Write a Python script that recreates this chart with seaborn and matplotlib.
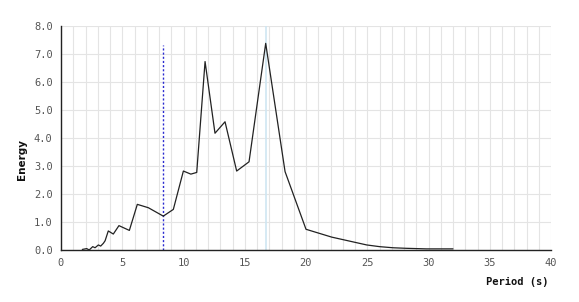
import matplotlib
matplotlib.use("Agg")
import matplotlib.pyplot as plt
import seaborn as sns
import pandas as pd
import numpy as np
from matplotlib.ticker import MultipleLocator, FormatStrFormatter

period = [1.74, 2.1, 2.3, 2.59, 2.78, 3.05, 3.24, 3.46, 3.6, 3.86, 4.27, 4.73, 5.58,
          6.23, 7.13, 8.35, 9.17, 9.99, 10.6, 11.08, 11.76, 12.57, 13.39, 14.34,
          15.35, 16.71, 18.29, 20.0, 22.1, 24.96, 26.0, 27.1, 28.2, 29.85, 32.0]
energy = [0.02, 0.05, 0.0, 0.12, 0.08, 0.18, 0.14, 0.24, 0.33, 0.68, 0.57, 0.87, 0.70,
          1.63, 1.51, 1.21, 1.45, 2.82, 2.71, 2.77, 6.73, 4.17, 4.58, 2.82,
          3.15, 7.38, 2.80, 0.74, 0.46, 0.18, 0.12, 0.08, 0.06, 0.04, 0.04]
peak_period = 16.75
marker_period = 8.35
marker_top = 7.32

df = pd.DataFrame({"Period (s)": period, "Energy": energy})

sns.set_style("white")
fig = plt.figure(figsize=(5.79, 3.02), dpi=100)
ax = fig.add_axes([61/579, 52/302, 490/579, 224/302])

ax.set_xlim(0, 40)
ax.set_ylim(0, 8)
ax.xaxis.set_major_locator(MultipleLocator(5))
ax.xaxis.set_minor_locator(MultipleLocator(1))
ax.yaxis.set_major_locator(MultipleLocator(1))
ax.yaxis.set_minor_locator(MultipleLocator(0.5))
ax.yaxis.set_major_formatter(FormatStrFormatter("%.1f"))

ax.grid(True, which="major", axis="y", color="#e4e4e4", lw=0.8)
ax.grid(True, which="minor", axis="x", color="#e4e4e4", lw=0.8)
ax.grid(True, which="major", axis="x", color="#e4e4e4", lw=0.8)
ax.set_axisbelow(True)

ax.axvline(peak_period, color="#cfe6f2", lw=1.2, zorder=1)
ax.vlines(marker_period, 0, marker_top, colors="#2a2ad0", linestyles=(0, (1.5, 1.5)), lw=1.0, zorder=2)

sns.lineplot(data=df, x="Period (s)", y="Energy", ax=ax, color="#222222", lw=0.9, zorder=3)

for s in ["top", "right"]:
    ax.spines[s].set_visible(False)
for s in ["left", "bottom"]:
    ax.spines[s].set_color("#222222")
    ax.spines[s].set_linewidth(1.0)

ax.tick_params(axis="both", which="both", direction="in", colors="#222222",
               labelcolor="#555555", labelsize=7.5, width=0.8)
ax.tick_params(axis="both", which="major", length=5)
ax.tick_params(axis="both", which="minor", length=3)
ax.tick_params(axis="x", pad=6)
ax.tick_params(axis="y", pad=6)
for lab in ax.get_xticklabels() + ax.get_yticklabels():
    lab.set_family("DejaVu Sans Mono")

ax.set_xlabel("")
ax.set_ylabel("")
fig.text(548/579, 1 - 282/302, "Period (s)", ha="right", va="center",
         fontsize=7.5, fontweight="bold", family="DejaVu Sans Mono", color="#111111")
fig.text(22/579, 1 - 160/302, "Energy", ha="center", va="center", rotation=90,
         fontsize=7.5, fontweight="bold", color="#111111")

fig.savefig("out.png", dpi=100)
